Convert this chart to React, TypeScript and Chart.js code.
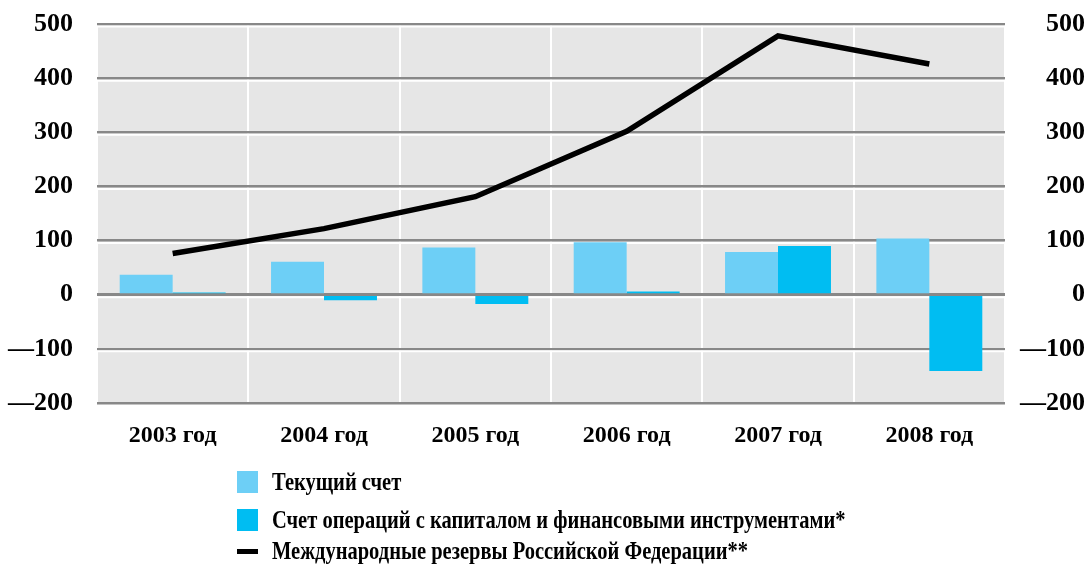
import React, { useEffect, useRef } from "react";
import { Chart, registerables } from "chart.js";

Chart.register(...registerables);

const categories = ["2003 год", "2004 год", "2005 год", "2006 год", "2007 год", "2008 год"];
const currentAccount = [37, 61, 87, 97, 79, 104];
const capitalAccount = [4, -10, -17, 6, 90, -141];
const reserves = [76, 122, 181, 302, 478, 426];
const yTicks = [-200, -100, 0, 100, 200, 300, 400, 500];

const legendItems = [
  { label: "Текущий счет", color: "#6dcff6", kind: "box" },
  { label: "Счет операций с капиталом и финансовыми инструментами*", color: "#00bdf2", kind: "box" },
  { label: "Международные резервы Российской Федерации**", color: "#000000", kind: "line" },
];

const FONT = "'Liberation Serif', 'Times New Roman', serif";

const bgPlugin = {
  id: "bgPlugin",
  beforeDraw(chart: any) {
    const { ctx, chartArea } = chart;
    ctx.save();
    ctx.fillStyle = "#e6e6e6";
    ctx.fillRect(chartArea.left, chartArea.top, chartArea.right - chartArea.left, chartArea.bottom - chartArea.top);
    ctx.restore();
  },
  beforeDatasetsDraw(chart: any) {
    const { ctx, chartArea, scales } = chart;
    const y = scales.y;
    ctx.save();
    ctx.strokeStyle = "#ffffff";
    ctx.lineWidth = 2;
    yTicks.forEach((v) => {
      if (v === -200) return;
      const py = y.getPixelForValue(v) + 2.5;
      ctx.beginPath();
      ctx.moveTo(chartArea.left, py);
      ctx.lineTo(chartArea.right, py);
      ctx.stroke();
    });
    ctx.restore();
  },
  afterDatasetsDraw(chart: any) {
    const { ctx, chartArea, scales } = chart;
    const py = scales.y.getPixelForValue(0);
    ctx.save();
    ctx.strokeStyle = "#888888";
    ctx.lineWidth = 2.5;
    ctx.beginPath();
    ctx.moveTo(chartArea.left, py);
    ctx.lineTo(chartArea.right, py);
    ctx.stroke();
    ctx.restore();
  },
};

const fmt = (v: any) => {
  const n = Number(v);
  return n < 0 ? "—" + Math.abs(n) : String(n);
};

export default function App() {
  const ref = useRef<HTMLCanvasElement>(null);
  useEffect(() => {
    if (!ref.current) return;
    const chart = new Chart(ref.current, {
      type: "bar",
      data: {
        labels: categories,
        datasets: [
          {
            type: "line",
            label: legendItems[2].label,
            data: reserves,
            borderColor: "#000000",
            backgroundColor: "#000000",
            borderWidth: 5.5,
            pointRadius: 0,
            tension: 0,
            order: 0,
            yAxisID: "y",
          } as any,
          {
            label: legendItems[0].label,
            data: currentAccount,
            backgroundColor: "#6dcff6",
            categoryPercentage: 0.7,
            barPercentage: 1.0,
            order: 1,
            yAxisID: "y",
          },
          {
            label: legendItems[1].label,
            data: capitalAccount,
            backgroundColor: "#00bdf2",
            categoryPercentage: 0.7,
            barPercentage: 1.0,
            order: 1,
            yAxisID: "y",
          },
        ],
      },
      options: {
        animation: false,
        responsive: false,
        maintainAspectRatio: false,
        layout: { padding: { top: 24, right: 3, left: 0, bottom: 0 } },
        plugins: { legend: { display: false }, tooltip: { enabled: false } },
        scales: {
          x: {
            offset: true,
            grid: { display: true, color: "#ffffff", lineWidth: 2, offset: true, drawTicks: false },
            border: { display: false },
            ticks: { color: "#000", font: { family: FONT, size: 24, weight: "bold" }, padding: 18 },
            afterFit: (s: any) => { s.height = 169; },
          },
          y: {
            position: "left",
            min: -200,
            max: 500,
            ticks: { stepSize: 100, color: "#000", font: { family: FONT, size: 26, weight: "bold" }, padding: 0, callback: fmt },
            grid: { color: "#888888", lineWidth: 2.5, drawTicks: true, tickLength: 24, tickColor: "rgba(0,0,0,0)" },
            border: { display: false },
            afterFit: (s: any) => { s.width = 97; },
          },
          y2: {
            position: "right",
            min: -200,
            max: 500,
            ticks: { stepSize: 100, color: "#000", font: { family: FONT, size: 26, weight: "bold" }, padding: 0, crossAlign: "far", callback: fmt },
            grid: { display: false, drawTicks: false },
            border: { display: false },
            afterFit: (s: any) => { s.width = 80; },
          },
        },
      } as any,
      plugins: [bgPlugin],
    });
    return () => chart.destroy();
  }, []);

  const rowCenters = [482, 520, 551];
  return (
    <div style={{ position: "fixed", left: 0, top: 0, width: 1088, height: 572, background: "#fff", overflow: "hidden" }}>
      <canvas ref={ref} width={1088} height={572} style={{ position: "absolute", left: 0, top: 0, width: 1088, height: 572 }} />
      {legendItems.map((it, i) => (
        <div key={i} style={{ position: "absolute", left: 237, top: rowCenters[i] - 15, height: 30, display: "flex", alignItems: "center", whiteSpace: "nowrap" }}>
          <div style={{ width: 21, height: it.kind === "box" ? 22 : 5, background: it.color, marginRight: 14, flex: "none" }} />
          <span style={{ fontFamily: FONT, fontWeight: "bold", fontSize: 25, color: "#000", lineHeight: "30px", display: "inline-block", transform: "scaleX(0.82)", transformOrigin: "left center" }}>{it.label}</span>
        </div>
      ))}
    </div>
  );
}
